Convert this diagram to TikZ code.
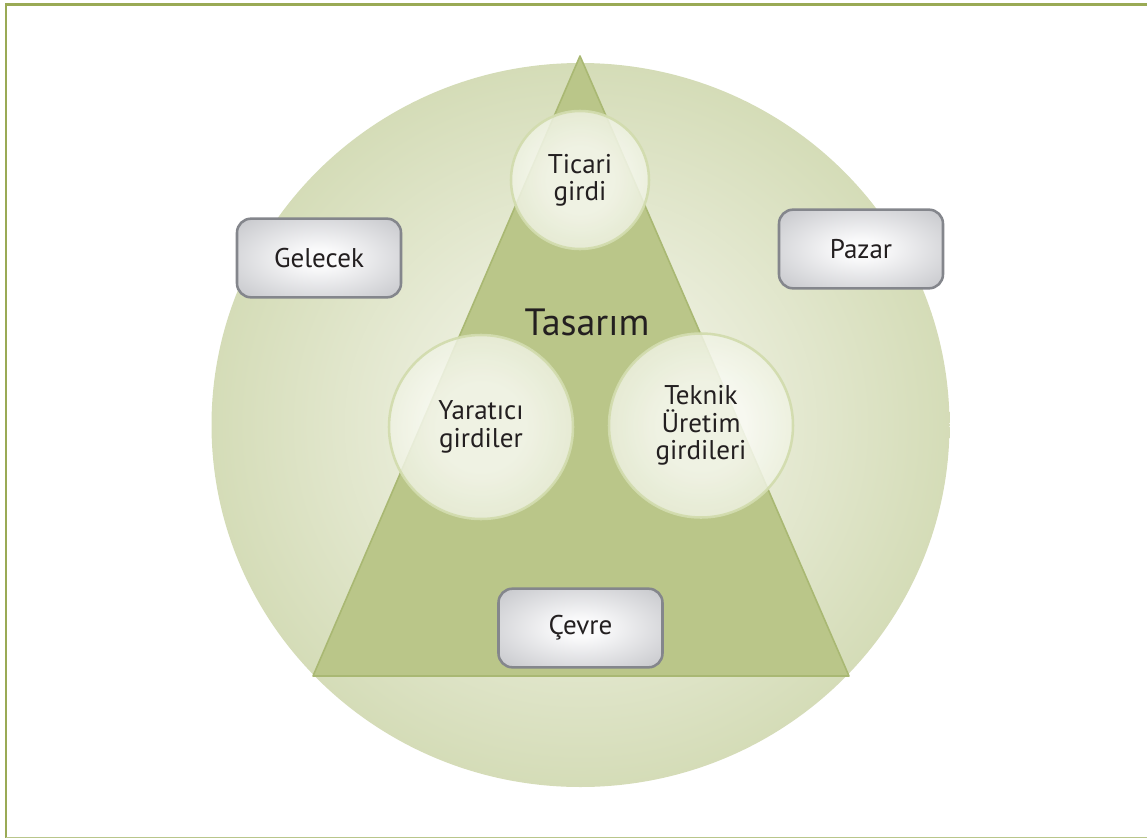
\documentclass[tikz,border=0pt]{standalone}
\usepackage{fontspec}
\setmainfont{PT Sans}
\usetikzlibrary{shapes.geometric}
\definecolor{framedark}{HTML}{9AAA55}
\definecolor{framelight}{HTML}{B9C68B}
\definecolor{ringout}{HTML}{C4D09B}
\definecolor{ringmid}{HTML}{D3DBB5}
\definecolor{ringin}{HTML}{F0F2E4}
\definecolor{trifill}{HTML}{BAC689}
\definecolor{triedge}{HTML}{A9B873}
\definecolor{bubblein}{HTML}{FAFBF5}
\definecolor{bubbleout}{HTML}{D9E1BE}
\definecolor{bubbleedge}{HTML}{D2DCAE}
\definecolor{boxin}{HTML}{FAFAFB}
\definecolor{boxout}{HTML}{C8C9CD}
\definecolor{boxedge}{HTML}{84868C}
\definecolor{ink}{HTML}{231F20}
% radial blends: 50bp is the rim of a circular path
\pgfdeclareradialshading{ringglow}{\pgfpoint{0bp}{0bp}}{color(0bp)=(ringin); color(6bp)=(ringin); color(26bp)=(ringmid); color(40bp)=(ringout); color(50bp)=(ringout)}
\pgfdeclareradialshading{bubbleglow}{\pgfpoint{0bp}{0bp}}{color(0bp)=(bubblein); color(12bp)=(bubblein); color(50bp)=(bubbleout)}
\pgfdeclareradialshading{boxglow}{\pgfpoint{0bp}{0bp}}{color(0bp)=(boxin); color(6bp)=(boxin); color(34bp)=(boxout); color(50bp)=(boxout)}
\tikzset{
  lbl/.style={text=ink, font=\fontsize{20.3pt}{20.5pt}\selectfont, align=center},
  bubble/.style={circle, draw=bubbleedge, line width=1.9pt, shading=bubbleglow,
    fill opacity=0.84, draw opacity=0.95, text opacity=1, lbl},
  tagbox/.style={rectangle, rounded corners=10.5pt, draw=boxedge, line width=1.9pt,
    shading=boxglow, minimum width=123pt, minimum height=59pt, lbl},
}
\begin{document}
\begin{tikzpicture}[x=0.75pt, y=-0.75pt]
\useasboundingbox (0,0) rectangle (1147,839);
% frame lines
\draw[framedark, line width=1.9pt] (1147,4.5) -- (6,4.5) -- (6,838);
\draw[framelight, line width=1.3pt] (6,837.5) -- (1147,837.5);
% outer disc
\node[ellipse, minimum width=553.5pt, minimum height=543pt, inner sep=0pt,
  shading=ringglow] (ring) at (580.5,425) {};
% triangle
\coordinate (apex) at (580,56);
\coordinate (baseL) at (313,676);
\coordinate (baseR) at (849,676);
\draw[triedge, fill=trifill, line width=1.2pt, line join=round] (apex) -- (baseR) -- (baseL) -- cycle;
% title
\node[text=ink, font=\fontsize{28.5pt}{30pt}\selectfont, anchor=base] (title) at (587,335) {Tasarım};
% input bubbles
\node[bubble, minimum size=103.5pt] (ticari) at (580,180) {Ticari\\girdi};
\node[bubble, minimum size=138pt] (yaratici) at (481,427) {Yaratıcı\\girdiler};
\node[bubble, minimum size=138pt] (teknik) at (701,425.5) {Teknik\\Üretim\\girdileri};
% context boxes
\node[tagbox] (gelecek) at (319,258) {Gelecek};
\node[tagbox] (pazar) at (861,249) {Pazar};
\node[tagbox] (cevre) at (580.5,628) {Çevre};
\end{tikzpicture}
\end{document}
